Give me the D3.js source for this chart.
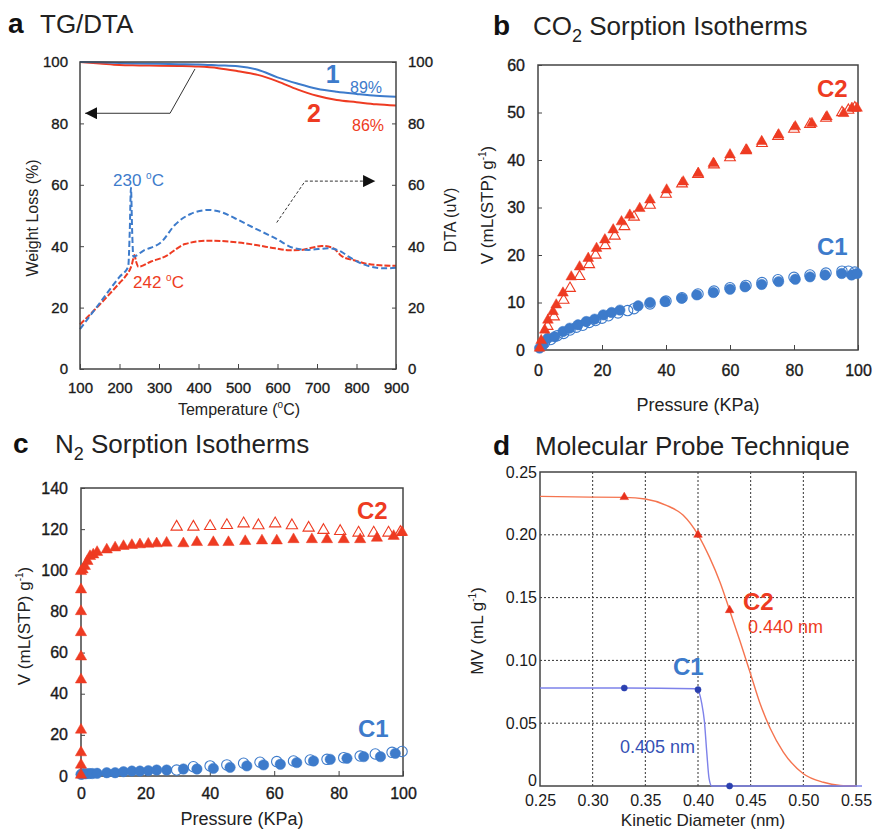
<!DOCTYPE html>
<head>
<meta charset="utf-8">
<style>
body { margin: 0; background: #fff; }
svg text { font-family: "Liberation Sans", Arial, sans-serif; }
.tick text { font-size: 16px; fill: #1a1a1a; }
.heavy .tick text { stroke: #1a1a1a; stroke-width: 0.35; }
.ta .tick text { font-size: 15px; }
.tick line { stroke: #444; }
.frame { fill: none; stroke: #444; stroke-width: 1.5; }
</style>
</head>
<body>
<script src="https://d3js.org/d3.v7.min.js"></script>
<script>
// ---- panel a : TG / DTA (temperature, value) ----
var tg1 = [[100,100],[150,99.9],[200,99.7],[250,99.5],[300,99.4],[350,99.3],[400,99.2],[450,98.9],[500,98.6],
           [550,97.5],[600,95.0],[650,93.0],[700,91.3],[750,90.3],[800,89.6],[850,89.0],[900,88.7]];
var tg2 = [[100,100],[150,99.5],[200,99.0],[250,98.9],[300,98.8],[350,98.7],[400,98.5],[450,98.0],[500,97.0],
           [550,95.8],[600,93.7],[650,91.1],[700,89.0],[750,87.6],[800,86.9],[850,86.2],[900,85.8]];
var dta1 = [[100,13],[150,21.5],[200,30],[222,33.3],[226,45],[229,59],[232,45],[235,36.6],[260,38.5],[307,41.5],
            [340,46.9],[380,50.5],[425,51.8],[460,51],[492,49.1],[540,46],[594,42.6],[644,39.3],[678,38.8],
            [728,39.3],[760,38.3],[780,36.6],[822,33.9],[872,32.8],[900,33]];
var dta2 = [[100,14.5],[150,21],[200,28],[214,30],[231,33.9],[238,37.1],[242,35],[248,33.3],[280,35],[315,36.6],
            [366,40.7],[425,41.8],[509,41.1],[550,40.3],[594,39.3],[630,38.7],[661,38.8],[690,39.6],[712,40.1],
            [740,39.5],[762,36.8],[800,35.2],[822,34.4],[860,33.8],[900,33.6]];
var arrowTG = [[391,97.7],[328,83.3],[113,83.3]];
var arrowDTA = [[598,47.7],[670,61.2],[847,61.2]];
var tempTicks = [100,200,300,400,500,600,700,800,900];
var pctTicks = [0,20,40,60,80,100];

// ---- panel b : CO2 isotherms (kPa, mL/g) ----
var co2C2Ads = [[0.5,0.4],[1,2],[2.1,4.2],[3.1,6.3],[4.7,8.1],[5.7,9.5],[7.8,12],[10.4,15.4],[13,17.5],[15.7,19.3],
                [18.3,21.4],[20.9,23.2],[23.5,25.3],[26.1,27],[28.7,28.4],[31.8,29.8],[35,31.6],[40.2,33.7],
                [45.4,35.4],[50.1,37.2],[54.8,39.3],[60,41.1],[65.2,42.1],[69.9,43.9],[75.2,45.3],[80.4,47],
                [85.6,47.7],[90.3,49.1],[95.5,49.8],[98.1,50.9],[99.7,50.9]];
var co2C2Des = [[3,5],[5,7],[8,10.5],[10,13],[13,15.5],[16,18],[18,20],[21,22],[24,24],[27,26],[30,28],[35,30.5],
                [40,32.8],[45,35],[50,37],[55,39],[60,40.5],[65,42],[70,43.5],[75,45],[80,46.5],[85,47.5],
                [90,48.8],[95,50],[97,50.5],[99,51]];
var co2C1Ads = [[0.5,0.4],[1.6,1.1],[3.1,2.5],[5.2,2.8],[7.8,3.9],[9.9,4.6],[12.5,5.3],[15.1,6],[17.7,6.5],
                [20.4,7.4],[23,7.9],[25.6,8.4],[31.3,9.3],[35,10],[39.7,10.2],[44.9,10.9],[49.6,11.6],[54.8,12.1],
                [60,12.8],[64.7,13.3],[69.9,13.8],[75.2,14.4],[80.4,14.9],[85,15.4],[89.7,15.8],[94.9,16.1],
                [98,15.8],[99.7,16.1]];
var co2C1Des = [[2,1.5],[4,2.2],[6,3],[8,3.5],[10,4.2],[12,4.8],[14,5.2],[16,5.8],[18,6.2],[20,6.7],[22,7.2],
                [25,7.8],[28,8.3],[30,8.7],[35,9.7],[40,10.3],[45,11],[50,11.8],[55,12.4],[60,13.1],[65,13.6],
                [70,14.2],[75,14.8],[80,15.3],[85,15.8],[90,16.2],[95,16.6],[97,16.6],[99,16.4]];
var kpaTicks = [0,20,40,60,80,100];
var co2Ticks = [0,10,20,30,40,50,60];

// ---- panel c : N2 isotherms ----
var n2C2Ads = [[0,0.5],[0,5.4],[0,11.4],[0,22.4],[0,46.8],[0,58],[0,69.8],[0,80],[0,90.6],[0,99.5],
               [0.5,100.3],[1.2,102],[2,104.4],[2.8,106.8],[3.8,107.6],[5,108.8],[8,110],[10.6,111],[13.2,111.7],
               [15.8,112.2],[18.3,112.5],[20.9,112.8],[23.5,113],[26.6,113.3],[31.8,113],[36,113.6],[41.1,113.6],
               [45.8,113.6],[51,114.1],[56.2,114.4],[60.8,114.4],[66,115],[71.7,115],[76.4,115],[81.6,115],
               [86.7,115],[91.9,115.7],[97.1,116.6],[99.7,118.5]];
var n2C2Des = [[29.7,121.1],[34.9,121.1],[40.1,121.4],[45.3,121.9],[50.5,122.7],[55.1,121.8],[60.3,122.7],
               [65.5,121.8],[70.7,120.6],[75.3,119.5],[80.5,119],[86.2,118.2],[90.9,118.2],[95.5,118.2],[99.2,118.5]];
var n2C1Ads = [[0,0.8],[0.3,1],[0.8,1.1],[1.5,1.1],[2.5,1.2],[3.5,1.2],[5,1.3],[8,1.6],[10.6,1.6],[13.2,2.1],
               [15.8,2.4],[18.3,2.4],[20.9,2.6],[23.5,2.9],[26.6,2.9],[31.8,3.4],[36,3.4],[41.1,3.7],[46.3,4.2],
               [51.5,4.9],[56.7,5.4],[61.9,5.7],[67,6.5],[72.2,7.3],[77.4,8.1],[82.6,8.6],[87.8,9.4],[93,9.4],[97.6,11]];
var n2C1Des = [[29.7,2.9],[34.9,4.5],[40.1,4.9],[45.3,5.4],[50.5,6.2],[55.6,6.7],[60.8,7],[66,7.3],[71.2,7.8],
               [76.4,8.1],[81.6,8.9],[86.7,9.7],[91.4,10.7],[96.6,11.5],[99.7,11.9]];
var n2Ticks = [0,20,40,60,80,100,120,140];

// ---- panel d : molecular probe (nm, mL/g) ----
var probeC2 = [[0.33,0.23],[0.40,0.20],[0.43,0.14]];
var probeC1 = [[0.33,0.078],[0.40,0.0767],[0.43,0]];
var fitC2 = [[0.25,0.2306],[0.2975,0.23],[0.33,0.2298],[0.35,0.2285],[0.37,0.2235],[0.386,0.2155],[0.40,0.20],
             [0.411,0.182],[0.421,0.162],[0.43,0.14],[0.44,0.115],[0.45,0.089],[0.459,0.0655],[0.4685,0.046],
             [0.481,0.027],[0.50,0.0098],[0.519,0.003],[0.535,0.0005],[0.55,0]];
var fitC1 = [[0.25,0.078],[0.33,0.078],[0.398,0.0774],[0.401,0.0745],[0.4035,0.066],[0.406,0.052],
             [0.4084,0.026],[0.4105,0.006],[0.413,0],[0.45,0],[0.5557,0]];
var nmTicks = [0.25,0.30,0.35,0.40,0.45,0.50,0.55];
var mvTicks = [0,0.05,0.10,0.15,0.20,0.25];

(function() {
	var blue = "#3d7bcb", red = "#ee3b22";

	var svg = d3.select("body").append("svg")
		.attr("width", 875).attr("height", 830);

	var defs = svg.append("defs");
	defs.append("marker").attr("id", "arrow")
		.attr("markerUnits", "userSpaceOnUse")
		.attr("markerWidth", 12).attr("markerHeight", 12)
		.attr("refX", 12).attr("refY", 6).attr("orient", "auto")
		.append("path").attr("d", "M0,0L12,6L0,12Z").attr("fill", "#111");

	function frame(g, x, y) {
		var r0 = x.range(), r1 = y.range();
		g.append("rect").attr("class", "frame")
			.attr("x", r0[0]).attr("y", r1[1])
			.attr("width", r0[1] - r0[0]).attr("height", r1[0] - r1[1]);
	}

	function clean(sel) { sel.select(".domain").remove(); }

	// title: bold letter, then text with optional subscript
	function title(lx, tx, baseline, letter, main, sub, rest) {
		svg.append("text").attr("x", lx).attr("y", baseline)
			.attr("font-size", 28).attr("font-weight", "bold").attr("fill", "#111").text(letter);
		var t = svg.append("text").attr("x", tx).attr("y", baseline)
			.attr("font-size", 26).attr("fill", "#222");
		t.append("tspan").text(main);
		if (sub) {
			t.append("tspan").attr("font-size", 18).attr("dy", 7).text(sub);
			t.append("tspan").attr("dy", -7).text(rest);
		}
	}

	function richText(t, parts) {
		parts.forEach(function(p) {
			var s = t.append("tspan").text(p.t);
			if (p.sup) s.attr("font-size", 10).attr("dy", -7);
			if (p.down) s.attr("dy", 7);
		});
		return t;
	}

	// rotated axis title
	function yTitle(x, y, parts, size) {
		var t = svg.append("text").attr("transform", "translate(" + x + "," + y + ") rotate(-90)")
			.attr("text-anchor", "middle").attr("font-size", size || 16).attr("fill", "#222");
		return richText(t, parts);
	}

	function xTitle(x, y, parts, size) {
		var t = svg.append("text").attr("x", x).attr("y", y)
			.attr("text-anchor", "middle").attr("font-size", size || 16).attr("fill", "#222");
		return richText(t, parts);
	}

	var tri = d3.symbol().type(d3.symbolTriangle);

	function points(g, data, x, y, shape, color, filled, size) {
		var sel = g.append("g").selectAll("path").data(data).join("path")
			.attr("transform", function(d) { return "translate(" + x(d[0]) + "," + y(d[1]) + ")"; })
			.attr("d", shape === "tri" ? tri.size(size)() : d3.symbol().type(d3.symbolCircle).size(size)());
		if (filled) sel.attr("fill", color).attr("stroke", color).attr("stroke-width", 0.5);
		else sel.attr("fill", "none").attr("stroke", color).attr("stroke-width", 1.1);
	}

	function label(g, x, y, txt, color, size, bold) {
		return g.append("text").attr("x", x).attr("y", y).attr("font-size", size)
			.attr("font-weight", bold ? "bold" : "normal").attr("fill", color).text(txt);
	}

	// ================= panel a =================
	var ax = d3.scaleLinear().domain([100, 900]).range([80, 396]);
	var ay = d3.scaleLinear().domain([0, 100]).range([369, 62]);
	var ga = svg.append("g").attr("class", "ta heavy");

	ga.append("g").attr("transform", "translate(80,0)")
		.call(d3.axisLeft(ay).tickValues(pctTicks).tickSizeInner(-4).tickSizeOuter(0).tickPadding(12)).call(clean);
	ga.append("g").attr("transform", "translate(396,0)")
		.call(d3.axisRight(ay).tickValues(pctTicks).tickSizeInner(-4).tickSizeOuter(0).tickPadding(12)).call(clean);
	ga.append("g").attr("transform", "translate(0,369)")
		.call(d3.axisBottom(ax).tickValues(tempTicks).tickSizeInner(-5).tickSizeOuter(0).tickPadding(13)).call(clean);

	var lineA = d3.line().x(function(d) { return ax(d[0]); }).y(function(d) { return ay(d[1]); })
		.curve(d3.curveMonotoneX);

	ga.append("path").attr("d", lineA(tg2)).attr("fill", "none").attr("stroke", red).attr("stroke-width", 2);
	ga.append("path").attr("d", lineA(tg1)).attr("fill", "none").attr("stroke", blue).attr("stroke-width", 2);
	ga.append("path").attr("d", lineA(dta2)).attr("fill", "none").attr("stroke", red).attr("stroke-width", 2)
		.attr("stroke-dasharray", "6,2");
	ga.append("path").attr("d", lineA(dta1)).attr("fill", "none").attr("stroke", blue).attr("stroke-width", 2)
		.attr("stroke-dasharray", "6,3");

	var lineLin = d3.line().x(function(d) { return ax(d[0]); }).y(function(d) { return ay(d[1]); });
	ga.append("path").attr("d", lineLin(arrowTG)).attr("fill", "none").attr("stroke", "#333")
		.attr("stroke-width", 1).attr("marker-end", "url(#arrow)");
	ga.append("path").attr("d", lineLin(arrowDTA)).attr("fill", "none").attr("stroke", "#333")
		.attr("stroke-width", 1).attr("stroke-dasharray", "3,2").attr("marker-end", "url(#arrow)");

	frame(ga, ax, ay);

	label(ga, ax(740), ay(93.2), "1", blue, 25, true).attr("text-anchor", "middle");
	label(ga, 350, ay(90), "89%", blue, 16);
	label(ga, ax(692), ay(80.6), "2", red, 25, true).attr("text-anchor", "middle");
	label(ga, 352, ay(77.5), "86%", red, 16);

	function degLabel(x, y, num, color) {
		var t = label(ga, x, y, "", color, 17);
		richText(t, [{t: num + " "}, {t: "o", sup: true}, {t: "C", down: true}]);
	}
	degLabel(113, ay(59.5), "230", blue);
	degLabel(133, ay(26.5), "242", red);

	yTitle(38, 218, [{t: "Weight Loss (%)"}]);
	yTitle(456, 220, [{t: "DTA (uV)"}]);
	xTitle(239, 415, [{t: "Temperature ("}, {t: "o", sup: true}, {t: "C)", down: true}]);
	title(8, 40, 33, "a", "TG/DTA");

	// ================= panel b =================
	var bx = d3.scaleLinear().domain([0, 100]).range([538, 858]);
	var by = d3.scaleLinear().domain([0, 60]).range([350, 65]);
	var gb = svg.append("g").attr("class", "heavy");

	gb.append("g").attr("transform", "translate(538,0)")
		.call(d3.axisLeft(by).tickValues(co2Ticks).tickSizeInner(-4).tickSizeOuter(0).tickPadding(13)).call(clean);
	gb.append("g").attr("transform", "translate(0,350)")
		.call(d3.axisBottom(bx).tickValues(kpaTicks).tickSizeInner(-5).tickSizeOuter(0).tickPadding(15)).call(clean);
	frame(gb, bx, by);

	points(gb, co2C1Des, bx, by, "circ", blue, false, 85);
	points(gb, co2C1Ads, bx, by, "circ", blue, true, 85);
	points(gb, co2C2Des, bx, by, "tri", red, false, 50);
	points(gb, co2C2Ads, bx, by, "tri", red, true, 50);

	label(gb, 817, 97, "C2", red, 24, true);
	label(gb, 817, 255, "C1", blue, 24, true);

	yTitle(493, 205, [{t: "V (mL(STP) g"}, {t: "-1", sup: true}, {t: ")", down: true}], 17);
	xTitle(698, 411, [{t: "Pressure (KPa)"}], 18);
	title(493, 533, 35, "b", "CO", "2", " Sorption Isotherms");

	// ================= panel c =================
	var cx = d3.scaleLinear().domain([0, 100]).range([81, 403]);
	var cy = d3.scaleLinear().domain([0, 140]).range([776, 488]);
	var gc = svg.append("g").attr("class", "heavy");

	gc.append("g").attr("transform", "translate(81,0)")
		.call(d3.axisLeft(cy).tickValues(n2Ticks).tickSizeInner(-4).tickSizeOuter(0).tickPadding(13)).call(clean);
	gc.append("g").attr("transform", "translate(0,776)")
		.call(d3.axisBottom(cx).tickValues(kpaTicks).tickSizeInner(-5).tickSizeOuter(0).tickPadding(12)).call(clean);
	frame(gc, cx, cy);

	points(gc, n2C1Des, cx, cy, "circ", blue, false, 85);
	points(gc, n2C1Ads, cx, cy, "circ", blue, true, 85);
	points(gc, n2C2Des, cx, cy, "tri", red, false, 55);
	points(gc, n2C2Ads, cx, cy, "tri", red, true, 55);

	label(gc, 357, 519, "C2", red, 24, true);
	label(gc, 358, 737, "C1", blue, 24, true);

	yTitle(30, 626, [{t: "V (mL(STP) g"}, {t: "-1", sup: true}, {t: ")", down: true}], 17);
	xTitle(242, 825, [{t: "Pressure (KPa)"}], 18);
	title(13, 55, 453, "c", "N", "2", "  Sorption Isotherms");

	// ================= panel d =================
	var dx = d3.scaleLinear().domain([0.25, 0.55]).range([540, 856]);
	var dy = d3.scaleLinear().domain([0, 0.25]).range([786, 472]);
	var gd = svg.append("g");

	var fmt = function(d) { return d === 0 ? "0" : d3.format(".2f")(d); };
	var dLeft = gd.append("g").attr("transform", "translate(540,0)")
		.call(d3.axisLeft(dy).tickValues(mvTicks).tickFormat(fmt).tickSize(0).tickPadding(3)).call(clean);
	dLeft.selectAll(".tick text").filter(function(d) { return d === 0; }).attr("dy", "-0.05em");
	gd.append("g").attr("transform", "translate(0,786)")
		.call(d3.axisBottom(dx).tickValues(nmTicks).tickFormat(d3.format(".2f")).tickSize(0).tickPadding(9)).call(clean);

	gd.append("g").selectAll("line").data(nmTicks.slice(1, -1)).join("line")
		.attr("x1", function(d) { return dx(d); }).attr("x2", function(d) { return dx(d); })
		.attr("y1", dy(0)).attr("y2", dy(0.25))
		.attr("stroke", "#333").attr("stroke-width", 1).attr("stroke-dasharray", "2,2");
	gd.append("g").selectAll("line").data(mvTicks.slice(1, -1)).join("line")
		.attr("x1", dx(0.25)).attr("x2", dx(0.55))
		.attr("y1", function(d) { return dy(d); }).attr("y2", function(d) { return dy(d); })
		.attr("stroke", "#333").attr("stroke-width", 1).attr("stroke-dasharray", "2,2");
	frame(gd, dx, dy);

	var lineD = d3.line().x(function(d) { return dx(d[0]); }).y(function(d) { return dy(d[1]); })
		.curve(d3.curveMonotoneX);
	gd.append("path").attr("d", lineD(fitC2)).attr("fill", "none").attr("stroke", "#f5744f").attr("stroke-width", 1.4);
	gd.append("path").attr("d", lineD(fitC1)).attr("fill", "none").attr("stroke", "#7e82ea").attr("stroke-width", 1.4);

	points(gd, probeC2, dx, dy, "tri", "#e8301c", true, 32);
	points(gd, probeC1, dx, dy, "circ", "#2b40b0", true, 30);

	label(gd, 743, 610, "C2", red, 24, true);
	label(gd, 748, 633, "0.440 nm", red, 18);
	label(gd, 673, 675, "C1", blue, 24, true);
	label(gd, 620, 753, "0.405 nm", "#3550b5", 18);

	yTitle(483, 631, [{t: "MV  (mL g"}, {t: "-1", sup: true}, {t: ")", down: true}], 17);
	xTitle(703, 826, [{t: "Kinetic Diameter (nm)"}], 17);
	title(493, 535, 455, "d", "Molecular Probe Technique");
})();
</script>
</body>
